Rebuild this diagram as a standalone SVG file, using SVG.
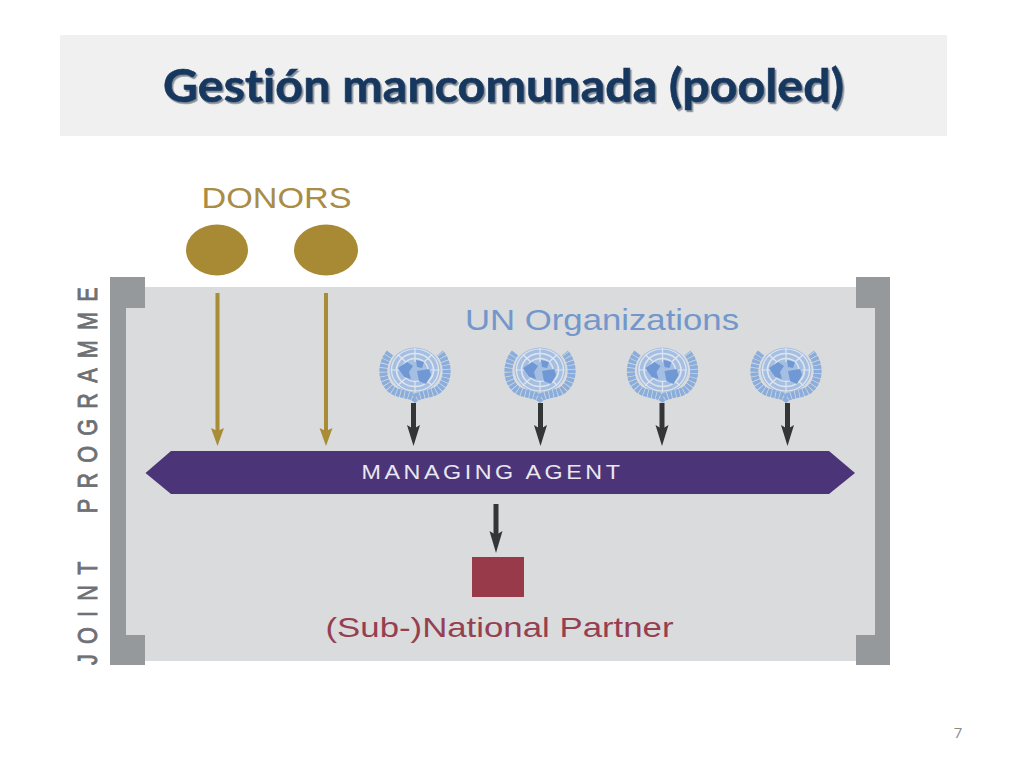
<svg xmlns="http://www.w3.org/2000/svg" xmlns:xlink="http://www.w3.org/1999/xlink" width="1024" height="768" viewBox="0 0 1024 768">
<defs>
<filter id="ts" x="-5%" y="-20%" width="110%" height="140%"><feDropShadow dx="1.500" dy="1.800" stdDeviation="0.700" flood-color="#76828f" flood-opacity="0.9"/></filter>
<filter id="soft" x="-10%" y="-10%" width="120%" height="120%"><feGaussianBlur stdDeviation="0.600"/></filter>
<g id="emblem" filter="url(#soft)">
<path d="M-25-19C-34-8-34 8-24 17C-17 23-7 21 0 26C7 21 17 23 24 17C34 8 34-8 25-19" fill="none" stroke="#8aaddc" stroke-width="8" stroke-dasharray="3.500 0.700"/>
<ellipse rx="25.500" ry="22.500" cy="-2" fill="#a5bfe3"/>
<g fill="none" stroke="#dfe5ee" transform="translate(0 -2) scale(1.120 1)">
<circle r="21" stroke-width="1.200"/>
<circle r="16.500" stroke-width="1.500"/>
<circle r="11.500" stroke-width="1.300"/>
<path d="M0-22V-8M0 12V22M-22 0H-14M14 0H22M-15.500-15.500L-8-8M15.500-15.500L8-8M-15.500 15.500L-8 8M15.500 15.500L8 8" stroke-width="1.100"/>
</g>
<path d="M-17-4L-8-10L-2-6L-6 0L-4 7L-11 5ZM1-12L9-10L7-4L2-5ZM2-1L14-3L16 3L11 12L4 9Z" fill="#6f98d4"/>
</g>
</defs>
<style>
.lab{font-family:"Liberation Sans",Arial,sans-serif}
.gold{stroke:#a98c36;stroke-width:4;fill:none}
.dark{stroke:#333537;stroke-width:5;fill:none}
.dh{fill:#333537}
.gh{fill:#a98c36}
.br{fill:#96999b}
</style>
<rect width="1024" height="768" fill="#fff"/>
<g id="header">
<rect x="60" y="35" width="887" height="101" fill="#f0f0f0"/>
<text x="503.500" y="102" text-anchor="middle" font-family="Lato,sans-serif" font-weight="700" font-size="46" stroke="#17375e" stroke-width="0.700" style="font-variant-ligatures:none" textLength="681" lengthAdjust="spacingAndGlyphs" fill="#17375e" filter="url(#ts)">Gestión mancomunada (pooled)</text>
</g>
<g id="panel">
<rect x="126" y="287" width="749" height="374" fill="#d9dbdc"/>
</g>
<g id="bracket-left"><path class="br" d="M110 277H145V308H126V635H145V665H110Z"/></g>
<g id="bracket-right"><path class="br" d="M856 277H890V665H856V635H875V308H856Z"/></g>
<g id="joint-programme">
<text class="lab" transform="translate(96.500 665) rotate(-90) scale(.8 1)" font-size="27" fill="#6d7074" stroke="#6d7074" stroke-width="0.900" letter-spacing="12.800" word-spacing="28">JOINT PROGRAMME</text>
</g>
<g id="donors">
<text class="lab" x="276.500" y="208" text-anchor="middle" font-size="30" fill="#a98c45" textLength="150" lengthAdjust="spacingAndGlyphs">DONORS</text>
<ellipse cx="217" cy="250" rx="31" ry="25.500" fill="#a98a34"/>
<ellipse cx="326" cy="250" rx="32" ry="25.500" fill="#a98a34"/>
</g>
<g id="un-organizations">
<text class="lab" x="602" y="330" text-anchor="middle" font-size="29" fill="#7397cb" textLength="274" lengthAdjust="spacingAndGlyphs">UN Organizations</text>
<use xlink:href="#emblem" href="#emblem" x="415" y="372"/>
<use xlink:href="#emblem" href="#emblem" x="540" y="372"/>
<use xlink:href="#emblem" href="#emblem" x="662.500" y="372"/>
<use xlink:href="#emblem" href="#emblem" x="786" y="372"/>
</g>
<g id="connectors">
<path class="gold" d="M217.500 293V432"/><path class="gh" d="M211 428L217.500 431L224 428L217.500 446Z"/>
<path class="gold" d="M326 293V432"/><path class="gh" d="M319.500 428L326 431L332.500 428L326 446Z"/>
<path class="dark" d="M413.500 403V430"/><path class="dh" d="M407 425L413.500 429L420 425L413.500 446Z"/>
<path class="dark" d="M540.500 403V430"/><path class="dh" d="M534 425L540.500 429L547 425L540.500 446Z"/>
<path class="dark" d="M662 403V430"/><path class="dh" d="M655.500 425L662 429L668.500 425L662 446Z"/>
<path class="dark" d="M787.500 403V430"/><path class="dh" d="M781 425L787.500 429L794 425L787.500 446Z"/>
<path class="dark" d="M496 504V536"/><path class="dh" d="M489.500 531L496 535L502.500 531L496 553Z"/>
</g>
<g id="managing-agent">
<path d="M145.500 473L171 451H829L855 473L829 494H171Z" fill="#4b3578"/>
<text class="lab" x="492.500" y="479" text-anchor="middle" font-size="21" letter-spacing="3.200" fill="#e9e7ef" textLength="262" lengthAdjust="spacingAndGlyphs">MANAGING AGENT</text>
</g>
<g id="partner">
<rect x="472" y="557" width="52" height="40" fill="#983a4a"/>
<text class="lab" x="499.500" y="637" text-anchor="middle" font-size="28" fill="#963f51" textLength="348" lengthAdjust="spacingAndGlyphs">(Sub-)National Partner</text>
</g>
<g id="page-number">
<text x="958" y="738" text-anchor="middle" font-family="'Open Sans',sans-serif" font-size="15" fill="#8b8b8b">7</text>
</g>
</svg>
